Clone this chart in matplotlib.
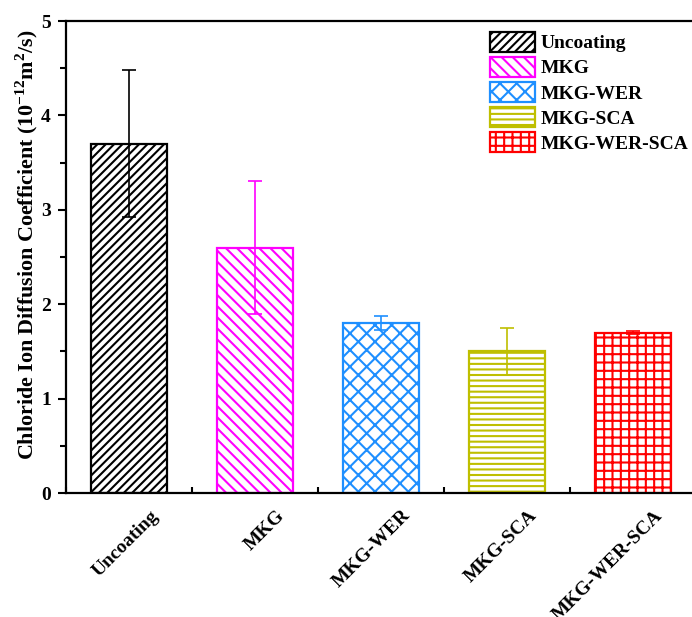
import numpy as np
from matplotlib import pyplot as plt
from matplotlib.ticker import MultipleLocator
from matplotlib.transforms import ScaledTranslation

# data
labels = ['Uncoating', 'MKG', 'MKG-WER', 'MKG-SCA', 'MKG-WER-SCA']
values = [3.70, 2.60, 1.80, 1.50, 1.70]
errors = [0.78, 0.70, 0.07, 0.25, 0.02]
colors = ['black', '#FF00FF', '#1E8FFF', '#BFBF00', '#FF0000']
hatches = ['////', '\\\\\\', 'xx', '---', '++']

plt.rcParams['font.family'] = ['Liberation Serif', 'DejaVu Serif']
plt.rcParams['font.weight'] = 'bold'
plt.rcParams['mathtext.fontset'] = 'custom'
plt.rcParams['mathtext.rm'] = 'Liberation Serif:bold'
plt.rcParams['mathtext.bf'] = 'Liberation Serif:bold'
plt.rcParams['hatch.linewidth'] = 1.5

fig = plt.figure(figsize=(6.92, 6.17), dpi=100)
ax = fig.add_axes([66 / 692, 124 / 617, 630 / 692, 472 / 617])

x = np.arange(len(labels))
for i in range(len(labels)):
    ax.bar(x[i], values[i], width=0.6, facecolor='white', edgecolor=colors[i],
           hatch=hatches[i], linewidth=1.6, label=labels[i], zorder=2)
    ax.errorbar(x[i], values[i], yerr=errors[i], color=colors[i], capsize=5,
                elinewidth=1.2, capthick=1.2, zorder=3)

ax.set_xlim(-0.5, 4.5)
ax.set_ylim(0, 5)
ax.set_xticks(x)
ax.set_xticklabels([])
# category labels: rotated, ending a little right of each tick
lab_trans = ax.get_xaxis_transform() + ScaledTranslation(0.21, -0.14, fig.dpi_scale_trans)
for i in range(len(labels)):
    ax.text(x[i], 0, labels[i], transform=lab_trans, rotation=45, ha='right',
            va='top', rotation_mode='anchor', fontsize=14, fontweight='bold')

ax.xaxis.set_minor_locator(MultipleLocator(1, offset=0.5))
ax.yaxis.set_major_locator(MultipleLocator(1))
ax.yaxis.set_minor_locator(MultipleLocator(0.5))
ax.tick_params(axis='x', which='both', direction='in', width=1.5)
ax.tick_params(axis='x', which='major', length=6)
ax.tick_params(axis='x', which='minor', length=4)
ax.tick_params(axis='y', which='both', direction='out', width=1.5)
ax.tick_params(axis='y', which='major', length=6, labelsize=14, pad=5)
ax.tick_params(axis='y', which='minor', length=4)
for s in ax.spines.values():
    s.set_linewidth(1.6)

ax.set_ylabel(r'Chloride Ion Diffusion Coefficient (10$^{-12}$m$^{2}$/s)',
              fontsize=15.8, fontweight='bold')
ax.yaxis.set_label_coords(-0.042, 0.525)

ax.legend(loc='upper right', bbox_to_anchor=(1.0, 0.994), frameon=False,
          prop={'size': 14, 'weight': 'bold'}, handlelength=2.3, handleheight=1.2,
          handletextpad=0.3, labelspacing=0.24, borderaxespad=0.0)

fig.savefig('out.png', dpi=100)
